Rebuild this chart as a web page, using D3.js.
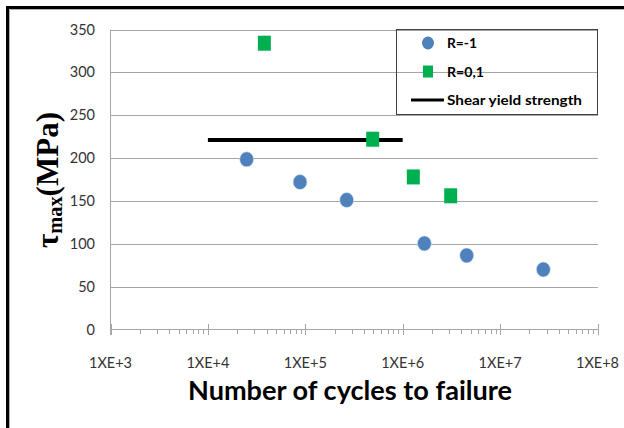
<!DOCTYPE html>
<html><head><meta charset="utf-8">
<script src="https://cdn.jsdelivr.net/npm/d3@7/dist/d3.min.js"></script>
<style>html,body{margin:0;padding:0;background:#fff;}svg{display:block;}</style>
</head><body>
<svg id="chart" width="624" height="428"></svg>
<script>
// ---- data ----
const cyclesR1 = [25000, 88300, 266000, 1670000, 4540000, 27800000];
const tauR1 = [198.5, 172, 151, 100.4, 86.4, 70];
const cyclesR01 = [38000, 492000, 1285000, 3110000];
const tauR01 = [334, 222, 178, 156];
const yieldCycles = [1e4, 1e6];
const yieldTau = [221, 221];
const xTicks = [1e3, 1e4, 1e5, 1e6, 1e7, 1e8];
const xTickLabels = ["1XE+3", "1XE+4", "1XE+5", "1XE+6", "1XE+7", "1XE+8"];
const yTicks = [0, 50, 100, 150, 200, 250, 300, 350];
const legendLabels = ["R=-1", "R=0,1", "Shear yield strength"];

const svg = d3.select("#chart");
const grid = "#a6a6a6", blue = "#4f81bd", green = "#00b050";

// outer frame
svg.append("path").attr("d", "M7.5,440 L7.5,7.5 L640,7.5").attr("fill", "none").attr("stroke", "#000").attr("stroke-width", 3);
svg.append("path").attr("d", "M9.5,440 L9.5,9.5 L640,9.5").attr("fill", "none").attr("stroke", "#b0b0b0").attr("stroke-width", 1);

const x = d3.scaleLog().domain([1e3, 1e8]).range([110.5, 597.5]);
const y = d3.scaleLinear().domain([0, 350]).range([329.5, 29.5]);

// gridlines
svg.append("g").selectAll("line").data(yTicks.filter(d => d > 0)).join("line")
  .attr("x1", 110.5).attr("x2", 598).attr("y1", d => Math.round(y(d)) + 0.5).attr("y2", d => Math.round(y(d)) + 0.5)
  .attr("stroke", grid).attr("stroke-width", 1);

// x axis (log with minor ticks)
const minor = [];
for (let e = 3; e < 8; e++) for (let k = 2; k <= 9; k++) minor.push(k * Math.pow(10, e));
const xa = svg.append("g");
xa.append("line").attr("x1", 110.5).attr("x2", 598).attr("y1", y(0)).attr("y2", y(0)).attr("stroke", grid);
xa.selectAll(".mn").data(minor).join("line").attr("class", "mn")
  .attr("x1", d => Math.round(x(d)) + 0.5).attr("x2", d => Math.round(x(d)) + 0.5)
  .attr("y1", y(0)).attr("y2", y(0) + 4.5).attr("stroke", grid);
xa.selectAll(".mj").data(xTicks).join("line").attr("class", "mj")
  .attr("x1", d => Math.round(x(d)) + 0.5).attr("x2", d => Math.round(x(d)) + 0.5)
  .attr("y1", y(0) - 5.5).attr("y2", y(0) + 5.5).attr("stroke", grid);
xa.selectAll("text").data(xTicks).join("text")
  .attr("x", d => x(d)).attr("y", 368).attr("text-anchor", "middle")
  .attr("font-family", "Lato, 'Open Sans', sans-serif").attr("font-size", 14.5).attr("fill", "#333")
  .text((d, i) => xTickLabels[i]);

// y axis
const ya = svg.append("g");
ya.append("line").attr("x1", 110.5).attr("x2", 110.5).attr("y1", y(350)).attr("y2", y(0) + 5.5).attr("stroke", grid);
ya.selectAll("text").data(yTicks).join("text")
  .attr("x", 95).attr("y", d => y(d) + 5).attr("text-anchor", "end")
  .attr("font-family", "Lato, 'Open Sans', sans-serif").attr("font-size", 14.5).attr("fill", "#333")
  .text(d => d);

// shear yield line
svg.append("path")
  .attr("d", d3.line().x(d => x(d[0])).y(d => y(d[1]))(yieldCycles.map((c, i) => [c, yieldTau[i]])))
  .attr("stroke", "#000").attr("stroke-width", 4).attr("fill", "none");

// R=-1 circles
svg.append("g").selectAll("ellipse").data(cyclesR1.map((c, i) => [c, tauR1[i]])).join("ellipse")
  .attr("cx", d => x(d[0])).attr("cy", d => y(d[1])).attr("rx", 7).attr("ry", 7.5)
  .attr("fill", blue).attr("stroke", "#dfe8f3").attr("stroke-width", 0.6);

// R=0,1 squares
svg.append("g").selectAll("rect").data(cyclesR01.map((c, i) => [c, tauR01[i]])).join("rect")
  .attr("x", d => x(d[0]) - 6.5).attr("y", d => y(d[1]) - 7.5).attr("width", 13).attr("height", 15)
  .attr("fill", green);

// legend
const lg = svg.append("g");
lg.append("rect").attr("x", 396.5).attr("y", 29.5).attr("width", 201).attr("height", 85)
  .attr("fill", "none").attr("stroke", "#404040").attr("stroke-width", 1);
lg.append("ellipse").attr("cx", 428).attr("cy", 43).attr("rx", 6).attr("ry", 6.5).attr("fill", blue);
lg.append("rect").attr("x", 423).attr("y", 65.5).attr("width", 10).attr("height", 12).attr("fill", green);
lg.append("line").attr("x1", 411).attr("x2", 444).attr("y1", 100).attr("y2", 100).attr("stroke", "#000").attr("stroke-width", 3);
const lgY = [48, 77, 105], lgW = [30, 37, 135];
lg.selectAll("text").data(legendLabels).join("text")
  .attr("x", 447).attr("y", (d, i) => lgY[i])
  .attr("font-family", "Lato, 'Open Sans', sans-serif").attr("font-weight", "bold").attr("font-size", 14).attr("fill", "#000")
  .attr("textLength", (d, i) => lgW[i]).attr("lengthAdjust", "spacingAndGlyphs")
  .text(d => d);

// axis titles
svg.append("text").attr("x", 350).attr("y", 400).attr("text-anchor", "middle")
  .attr("font-family", "Lato, 'Open Sans', sans-serif").attr("font-weight", "bold").attr("font-size", 26)
  .attr("textLength", 324).attr("lengthAdjust", "spacingAndGlyphs").attr("fill", "#000")
  .text("Number of cycles to failure");

const yt = svg.append("text").attr("transform", "translate(58,180) rotate(-90)").attr("text-anchor", "middle")
  .attr("font-family", "'Liberation Serif', 'DejaVu Serif', serif").attr("font-weight", "bold").attr("font-size", 32)
  .attr("fill", "#000").attr("textLength", 136).attr("lengthAdjust", "spacingAndGlyphs");
yt.append("tspan").text("τ");
yt.append("tspan").attr("font-size", 21).attr("dy", 4).text("max");
yt.append("tspan").attr("dy", -4).text("(MPa)");
</script>
</body></html>
